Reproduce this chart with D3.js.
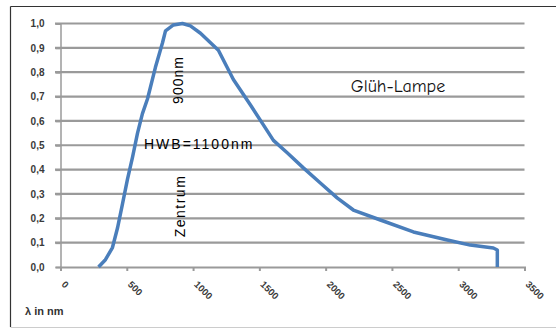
<!DOCTYPE html>
<html><head><meta charset="utf-8">
<script src="https://cdn.jsdelivr.net/npm/d3@7"></script>
<style>body{margin:0;background:#fff}svg{display:block}</style>
</head><body>
<svg id="c" width="556" height="331"></svg>
<script>
const wavelength = [287,339,392,430,468,505,543,581,618,656,716,769,792,852,920,980,1056,1191,1304,1433,1523,1606,1712,1832,1960,2089,2209,2413,2662,2918,3091,3265,3295,3295];
const intensity  = [0.00,0.03,0.08,0.16,0.26,0.36,0.45,0.55,0.63,0.69,0.82,0.92,0.97,0.994,1.0,0.99,0.96,0.89,0.77,0.665,0.59,0.52,0.468,0.407,0.345,0.283,0.234,0.193,0.144,0.111,0.09,0.078,0.07,0.0];
const xTicks = [0,500,1000,1500,2000,2500,3000,3500];
const yTicks = [0,0.1,0.2,0.3,0.4,0.5,0.6,0.7,0.8,0.9,1.0];
const title = "Glüh-Lampe";
const xLabel = "λ in nm";
const notes = {peak:"900nm", hwb:"HWB=1100nm", center:"Zentrum"};

const svg = d3.select("#c");
const x = d3.scaleLinear().domain([0,3500]).range([60.5,524.5]);
const y = d3.scaleLinear().domain([0,1]).range([267,23.5]);
const F = "'Liberation Sans', Arial, sans-serif";

// frame
svg.append("line").attr("x1",10.5).attr("x2",556).attr("y1",6.5).attr("y2",6.5).attr("stroke","#333").attr("stroke-width",1.2);
svg.append("line").attr("x1",10.5).attr("x2",10.5).attr("y1",6.5).attr("y2",327).attr("stroke","#333").attr("stroke-width",1.2);
svg.append("line").attr("x1",10.5).attr("x2",556).attr("y1",327.5).attr("y2",327.5).attr("stroke","#ccc").attr("stroke-width",1);

// gridlines
svg.append("g").selectAll("line").data(yTicks.filter(d=>d>0)).join("line")
  .attr("x1",55).attr("x2",524.5).attr("y1",d=>y(d)).attr("y2",d=>y(d))
  .attr("stroke","#9a9a9a").attr("stroke-width",2.2);

// y axis
const ya = svg.append("g").attr("transform","translate(60.5,0)")
  .call(d3.axisLeft(y).tickValues(yTicks).tickSize(5).tickFormat(d=>d3.format(".1f")(d).replace(".",",")));
ya.attr("font-family",F);
ya.select(".domain").attr("stroke","#9a9a9a").attr("stroke-width",1.5);
ya.selectAll(".tick line").attr("stroke","#9a9a9a").attr("stroke-width",2);
ya.selectAll("text").attr("font-family",F).attr("font-weight","bold").attr("font-size",10).attr("fill","#3a3a3a").attr("x",-16);

// x axis
const xa = svg.append("g").attr("transform","translate(0,267)")
  .call(d3.axisBottom(x).tickValues(xTicks).tickSize(4).tickFormat(d=>d));
xa.attr("font-family",F);
xa.select(".domain").attr("stroke","#9a9a9a").attr("stroke-width",2);
xa.selectAll(".tick line").attr("stroke","#9a9a9a").attr("stroke-width",2);
xa.selectAll("text").attr("font-family",F).attr("font-weight","bold").attr("font-size",9.5).attr("fill","#3a3a3a")
  .attr("text-anchor","start").attr("dy",0).attr("y",0)
  .attr("transform","translate(0,18) rotate(45)");

// curve
const line = d3.line().x((d,i)=>x(wavelength[i])).y(d=>y(d));
svg.append("path").datum(intensity).attr("d",line).attr("fill","none")
  .attr("stroke","#4a7ebb").attr("stroke-width",3.5).attr("stroke-linejoin","round");

// texts
svg.append("text").attr("x",25).attr("y",315).attr("font-family",F).attr("font-weight","bold").attr("font-size",11).attr("fill","#333").text(xLabel);
svg.append("text").attr("x",398).attr("y",92).attr("text-anchor","middle").attr("font-family","'Comic Sans MS', 'Comic Neue', 'DejaVu Sans', sans-serif").attr("font-size",18).attr("fill","#111").text(title);
svg.append("text").attr("transform","translate(183,80) rotate(-90)").attr("text-anchor","middle").attr("font-family",F).attr("font-size",14).attr("letter-spacing",1).attr("fill","#000").text(notes.peak);
svg.append("text").attr("x",144).attr("y",149).attr("font-family",F).attr("font-size",14).attr("fill","#000").attr("letter-spacing",2).text(notes.hwb);
svg.append("text").attr("transform","translate(185,206) rotate(-90)").attr("text-anchor","middle").attr("font-family",F).attr("font-size",14).attr("letter-spacing",1.5).attr("fill","#000").text(notes.center);
</script>
</body></html>
